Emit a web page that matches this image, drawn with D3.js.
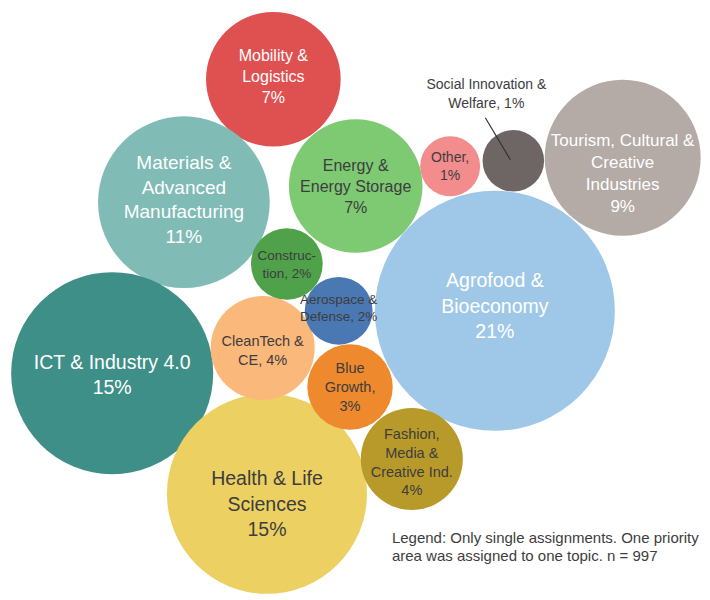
<!DOCTYPE html>
<meta charset="utf-8">
<style>
body { margin: 0; background: #fff; }
svg text { font-family: "Liberation Sans", Arial, sans-serif; }
</style>
<svg width="710" height="600"></svg>
<script src="https://d3js.org/d3.v7.min.js"></script>
<script>

// priority areas (single assignments, share of topics in %)
var categories = [
  "Mobility & Logistics", "Materials & Advanced Manufacturing", "Energy & Energy Storage",
  "Other", "Social Innovation & Welfare", "Tourism, Cultural & Creative Industries",
  "Agrofood & Bioeconomy", "ICT & Industry 4.0", "Health & Life Sciences",
  "CleanTech & CE", "Construction", "Aerospace & Defense", "Blue Growth",
  "Fashion, Media & Creative Ind."
];
var shares = [6.7, 10.9, 6.6, 1.33, 1.4, 9.0, 21.3, 15.1, 14.8, 4.0, 1.9, 1.7, 2.7, 3.85];

// label lines, {v} = rounded share
var labelLines = [
  ["Mobility &", "Logistics", "{v}%"],
  ["Materials &", "Advanced", "Manufacturing", "{v}%"],
  ["Energy &", "Energy Storage", "{v}%"],
  ["Other,", "{v}%"],
  [],
  ["Tourism, Cultural &", "Creative", "Industries", "{v}%"],
  ["Agrofood &", "Bioeconomy", "{v}%"],
  ["ICT & Industry 4.0", "{v}%"],
  ["Health & Life", "Sciences", "{v}%"],
  ["CleanTech &", "CE, {v}%"],
  ["Construc-", "tion, {v}%"],
  ["Aerospace &", "Defense, {v}%"],
  ["Blue", "Growth,", "{v}%"],
  ["Fashion,", "Media &", "Creative Ind.", "{v}%"]
];

var legendLines = ["Legend: Only single assignments. One priority", "area was assigned to one topic. n = 997"];

// hand placed bubble layout, in percent of the canvas
var layoutX = [38.5, 25.9, 50.1, 63.4, 72.3, 87.7, 69.7, 15.8, 37.6, 37.0, 40.4, 47.7, 49.3, 58.0];
var layoutY = [13.2, 33.7, 31.0, 27.7, 26.8, 26.3, 51.8, 62.2, 82.3, 58.0, 44.0, 51.8, 64.5, 76.5];
var labelShift = [-3, -3, 0, 0, 0, 15, -5, 1, 10, 2, 0, -3, 0, 3];

var fills = ["#df5050", "#80bbb5", "#7dca72", "#f38c8c", "#6e6664", "#b4aaa6", "#9fc8e8",
             "#3f8f89", "#ecd062", "#fbb87b", "#4fa14a", "#4a78b3", "#ee8a2d", "#b89a2a"];
var textColours = ["#fff", "#fff", "#3d3d3d", "#3d3d3d", "#fff", "#fff", "#fff",
                   "#fff", "#3d3d3d", "#3d3d3d", "#3d3d3d", "#3d3d3d", "#3d3d3d", "#3d3d3d"];
var fontSizes = [16, 19, 16, 14, 14, 17, 19.5, 19.5, 19.5, 14.5, 13.5, 13.5, 14.5, 14.5];

var svg = d3.select("svg"),
    width = +svg.attr("width"),
    height = +svg.attr("height");

var x = d3.scaleLinear().domain([0, 100]).range([0, width]);
var y = d3.scaleLinear().domain([0, 100]).range([0, height]);
var r = d3.scaleSqrt().domain([0, d3.max(shares)]).range([0, 120]);

var nodes = categories.map(function(c, i) {
  return {
    name: c, value: shares[i], cx: x(layoutX[i]), cy: y(layoutY[i]),
    lines: labelLines[i].map(function(l) { return l.replace("{v}", Math.round(shares[i])); }),
    fill: fills[i], colour: textColours[i], size: fontSizes[i], shift: labelShift[i]
  };
});

var g = svg.append("g");

g.append("g").selectAll("circle")
  .data(nodes)
  .enter().append("circle")
  .attr("cx", function(d) { return d.cx; })
  .attr("cy", function(d) { return d.cy; })
  .attr("r", function(d) { return r(d.value); })
  .attr("fill", function(d) { return d.fill; });

var labels = g.append("g").selectAll("text")
  .data(nodes)
  .enter().append("text")
  .attr("text-anchor", "middle")
  .attr("fill", function(d) { return d.colour; })
  .style("font-size", function(d) { return d.size + "px"; });

labels.each(function(d) {
  var lh = d.size * 1.3;
  var top = d.cy + d.shift - (d.lines.length - 1) * lh / 2 + d.size * 0.36;
  d3.select(this).selectAll("tspan")
    .data(d.lines)
    .enter().append("tspan")
    .attr("x", d.cx)
    .attr("y", function(l, k) { return top + k * lh; })
    .text(function(l) { return l; });
});

// callout for the small social innovation bubble
var soc = nodes[4];
g.append("line")
  .attr("x1", soc.cx - 28).attr("y1", soc.cy - 43)
  .attr("x2", soc.cx - 3).attr("y2", soc.cy - 1)
  .attr("stroke", "#333").attr("stroke-width", 1.2);

g.append("text")
  .attr("text-anchor", "middle")
  .attr("fill", "#3d3d3d")
  .style("font-size", "14px")
  .selectAll("tspan")
  .data(["Social Innovation &", "Welfare, " + Math.round(soc.value) + "%"])
  .enter().append("tspan")
  .attr("x", soc.cx - 27)
  .attr("y", function(l, k) { return soc.cy - 72 + k * 19; })
  .text(function(l) { return l; });

// footnote
g.append("text")
  .attr("fill", "#3d3d3d")
  .style("font-size", "15px")
  .selectAll("tspan")
  .data(legendLines)
  .enter().append("tspan")
  .attr("x", x(55.2))
  .attr("y", function(l, k) { return y(90.5) + k * 18; })
  .text(function(l) { return l; });

</script>
